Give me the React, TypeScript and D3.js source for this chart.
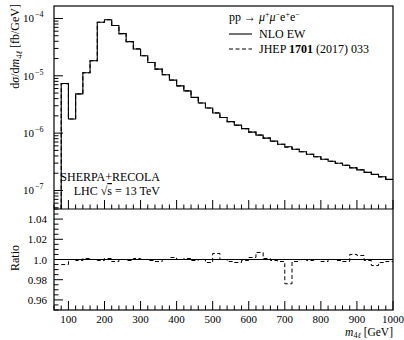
import * as d3 from "d3";

// m4l bins (lower edges, 20 GeV wide), last bin ends at 1000
const binLow = [
  80, 100, 120, 140, 160, 180, 200, 220, 240, 260, 280, 300, 320, 340, 360, 380,
  400, 420, 440, 460, 480, 500, 520, 540, 560, 580, 600, 620, 640, 660, 680, 700,
  720, 740, 760, 780, 800, 820, 840, 860, 880, 900, 920, 940, 960, 980,
];
const binHigh = 1000;

// NLO EW dsigma/dm4l [fb/GeV]
const nloEW = [
  7.33e-6, 1.76e-6, 4.83e-6, 1.13e-5, 1.83e-5, 8.61e-5, 9.49e-5, 7.54e-5, 5.45e-5,
  3.95e-5, 2.94e-5, 2.24e-5, 1.71e-5, 1.31e-5, 1.04e-5, 8.41e-6, 6.68e-6, 5.46e-6,
  4.2e-6, 3.36e-6, 2.75e-6, 2.24e-6, 1.87e-6, 1.59e-6, 1.38e-6, 1.2e-6, 1.04e-6,
  9.23e-7, 8.17e-7, 7.24e-7, 6.41e-7, 5.8e-7, 5.24e-7, 4.73e-7, 4.28e-7, 3.87e-7,
  3.5e-7, 3.23e-7, 2.98e-7, 2.75e-7, 2.48e-7, 2.29e-7, 2.07e-7, 1.91e-7, 1.73e-7,
  1.56e-7,
];

// JHEP 1701 (2017) 033 / NLO EW
const ratio = [
  0.995, 1.0, 0.999, 1.001, 1.0, 0.999, 1.001, 0.998, 1.0, 0.999, 1.001, 1.0, 0.999,
  0.998, 1.0, 1.002, 1.0, 1.001, 0.999, 1.0, 0.997, 1.006, 1.0, 0.998, 0.997, 0.999,
  1.002, 1.007, 1.001, 0.999, 0.998, 0.976, 0.998, 1.0, 0.999, 1.0, 0.998, 1.0, 0.999,
  0.998, 1.005, 1.004, 0.999, 0.994, 0.997, 0.998,
];

const xTicks = [100, 200, 300, 400, 500, 600, 700, 800, 900, 1000];
const yDecades = [-4, -5, -6, -7];
const ratioTicks = [1.04, 1.02, 1.0, 0.98, 0.96];
const ratioLabels = ["1.04", "1.02", "1.0", "0.98", "0.96"];

const W = 404;
const H = 340;
const left = 54;
const right = 393;
const top = 6;
const mid = 209;
const bottom = 310;
const font = "'Liberation Serif', 'DejaVu Serif', serif";

export default function App() {
  const x = d3.scaleLinear().domain([60, 1000]).range([left, right]);
  const y = d3.scaleLog().domain([4.75e-8, 1.65e-4]).range([mid, top]);
  const yr = d3.scaleLinear().domain([0.95, 1.05]).range([bottom, mid]);

  const pts = (vals: number[]) =>
    [...binLow.map((b, i) => [b, vals[i]] as [number, number]), [binHigh, vals[vals.length - 1]] as [number, number]];

  const stepLine = d3
    .line<[number, number]>()
    .x((d) => x(d[0]))
    .y((d) => y(d[1]))
    .curve(d3.curveStepAfter);
  const stepRatio = d3
    .line<[number, number]>()
    .x((d) => x(d[0]))
    .y((d) => yr(d[1]))
    .curve(d3.curveStepAfter);

  const mainPts = pts(nloEW);
  const jhepPts = pts(nloEW.map((v, i) => v * ratio[i]));
  const yMin = y.domain()[0];
  const solidPath = `M${x(binLow[0])},${y(yMin)}` + stepLine(mainPts)!.replace(/^M/, "L");
  const dashedPath = `M${x(binLow[0])},${y(yMin)}` + stepLine(jhepPts)!.replace(/^M/, "L");
  const ratioPath = stepRatio(pts(ratio))!;

  const xMinor = d3.range(60, 1001, 20).filter((v) => v % 100 !== 0);
  const yMinor: number[] = [];
  yDecades.concat([-8]).forEach((e) => {
    for (let k = 2; k <= 9; k++) {
      const v = k * Math.pow(10, e);
      if (v >= y.domain()[0] && v <= y.domain()[1]) yMinor.push(v);
    }
  });
  const rMinor = d3.range(0.95, 1.0501, 0.005).filter((v) => Math.abs(Math.round(v * 50) - v * 50) > 1e-6);

  const tickStyle = { stroke: "#000", strokeWidth: 1 };

  return (
    <svg width={W} height={H} style={{ position: "absolute", left: 0, top: 0 }} fontFamily={font}>
      <rect width={W} height={H} fill="#fff" />
      <defs>
        <clipPath id="cMain">
          <rect x={left} y={top} width={right - left} height={mid - top} />
        </clipPath>
        <clipPath id="cRatio">
          <rect x={left} y={mid} width={right - left} height={bottom - mid} />
        </clipPath>
      </defs>

      {/* histograms */}
      <g clipPath="url(#cMain)" fill="none">
        <path d={solidPath} stroke="#000" strokeWidth={1.1} />
        <path d={dashedPath} stroke="#000" strokeWidth={1.1} strokeDasharray="4,2.5" />
      </g>
      <g clipPath="url(#cRatio)" fill="none">
        <line x1={left} x2={right} y1={yr(1)} y2={yr(1)} stroke="#000" strokeWidth={1.1} />
        <path d={ratioPath} stroke="#000" strokeWidth={1} strokeDasharray="4,2.5" />
      </g>

      {/* x ticks, both panels */}
      {[mid, bottom].map((yb) => (
        <g key={yb}>
          {xTicks.map((t) => (
            <line key={t} x1={x(t)} x2={x(t)} y1={yb} y2={yb - 9} {...tickStyle} />
          ))}
          {xMinor.map((t) => (
            <line key={t} x1={x(t)} x2={x(t)} y1={yb} y2={yb - 4.5} {...tickStyle} />
          ))}
        </g>
      ))}

      {/* y ticks main */}
      {yDecades.map((e) => (
        <g key={e}>
          <line x1={left} x2={left + 9} y1={y(Math.pow(10, e))} y2={y(Math.pow(10, e))} {...tickStyle} />
          <text x={34} y={y(Math.pow(10, e)) + 4} fontSize={11} textAnchor="end">
            10
          </text>
          <text x={35} y={y(Math.pow(10, e)) - 1} fontSize={8}>
            {"\u2212" + -e}
          </text>
        </g>
      ))}
      {yMinor.map((v, i) => (
        <line key={i} x1={left} x2={left + 4.5} y1={y(v)} y2={y(v)} {...tickStyle} />
      ))}

      {/* ratio ticks */}
      {ratioTicks.map((t, i) => (
        <g key={t}>
          <line x1={left} x2={left + 9} y1={yr(t)} y2={yr(t)} {...tickStyle} />
          <text x={47} y={yr(t) + 4} fontSize={11} textAnchor="end">
            {ratioLabels[i]}
          </text>
        </g>
      ))}
      {rMinor.map((v, i) => (
        <line key={i} x1={left} x2={left + 4.5} y1={yr(v)} y2={yr(v)} {...tickStyle} />
      ))}

      {/* x tick labels */}
      {xTicks.map((t) => (
        <text key={t} x={x(t)} y={322.5} fontSize={11} textAnchor="middle">
          {t}
        </text>
      ))}

      {/* frames */}
      <rect x={left} y={top} width={right - left} height={bottom - top} fill="none" stroke="#000" strokeWidth={1.2} />
      <line x1={left} x2={right} y1={mid} y2={mid} stroke="#000" strokeWidth={1.2} />

      {/* axis labels */}
      <text transform="translate(19,4) rotate(-90)" fontSize={12} textAnchor="end">
        d<tspan fontStyle="italic">σ</tspan>/d<tspan fontStyle="italic">m</tspan>
        <tspan fontSize={8.5} dy={3}>4<tspan fontStyle="italic">ℓ</tspan></tspan>
        <tspan dy={-3}> [fb/GeV]</tspan>
      </text>
      <text transform="translate(19,258) rotate(-90)" fontSize={12} textAnchor="middle">
        Ratio
      </text>
      <text x={right} y={336} fontSize={11.5} textAnchor="end">
        <tspan fontStyle="italic">m</tspan>
        <tspan fontSize={8} dy={1.5}>4<tspan fontStyle="italic">ℓ</tspan></tspan>
        <tspan dy={-1.5}> [GeV]</tspan>
      </text>

      {/* legend */}
      <text x={229} y={21} fontSize={12}>
        pp → <tspan fontStyle="italic">μ</tspan>
        <tspan fontSize={8} dy={-4}>+</tspan>
        <tspan fontStyle="italic" dy={4}>μ</tspan>
        <tspan fontSize={8} dy={-4}>−</tspan>
        <tspan dy={4}>e</tspan>
        <tspan fontSize={8} dy={-4}>+</tspan>
        <tspan dy={4}>e</tspan>
        <tspan fontSize={8} dy={-4}>−</tspan>
      </text>
      <line x1={229} x2={252} y1={34} y2={34} stroke="#000" strokeWidth={1.1} />
      <text x={259} y={38} fontSize={12}>
        NLO EW
      </text>
      <line x1={229} x2={252} y1={49} y2={49} stroke="#000" strokeWidth={1.1} strokeDasharray="4,2.5" />
      <text x={259} y={53} fontSize={12}>
        JHEP <tspan fontWeight="bold">1701</tspan> (2017) 033
      </text>

      {/* annotation */}
      <text x={160} y={181} fontSize={12} textAnchor="end">
        SHERPA+RECOLA
      </text>
      <text x={160} y={195} fontSize={12} textAnchor="end">
        LHC √<tspan textDecoration="overline">s</tspan> = 13 TeV
      </text>
    </svg>
  );
}
